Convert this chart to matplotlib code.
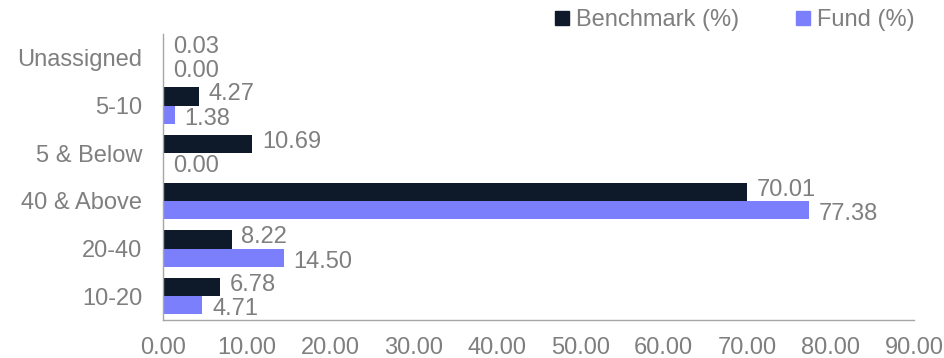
import matplotlib
matplotlib.use("Agg")
import matplotlib.pyplot as plt
import numpy as np

categories = ["Unassigned", "5-10", "5 & Below", "40 & Above", "20-40", "10-20"]
benchmark = [0.03, 4.27, 10.69, 70.01, 8.22, 6.78]
fund = [0.00, 1.38, 0.00, 77.38, 14.50, 4.71]
xticks = [0, 10, 20, 30, 40, 50, 60, 70, 80, 90]

plt.rcParams['font.family'] = ['Liberation Sans', 'DejaVu Sans']
gray = '#7f7f7f'
c_bench = '#0e1a2a'
c_fund = '#7b7ffc'
fs = 17

fig = plt.figure(figsize=(9.44, 3.58), dpi=100)
ax = fig.add_axes([0.1727, 0.106, 0.7955, 0.799])

n = len(categories)
y = np.arange(n)[::-1].astype(float)
h = 0.38
ax.barh(y + h/2, benchmark, height=h, color=c_bench, label='Benchmark (%)')
ax.barh(y - h/2, fund, height=h, color=c_fund, label='Fund (%)')

for yi, b, f in zip(y, benchmark, fund):
    ax.annotate(f"{b:.2f}", (b, yi + h/2), xytext=(7, 1.5), textcoords='offset points',
                ha='left', va='center', color=gray, fontsize=fs)
    ax.annotate(f"{f:.2f}", (f, yi - h/2), xytext=(7, -3), textcoords='offset points',
                ha='left', va='center', color=gray, fontsize=fs)

ax.set_xlim(0, 90)
ax.set_ylim(-0.5, n - 0.5)
ax.set_xticks(xticks)
ax.set_xticklabels([f"{v:.2f}" for v in xticks])
ax.set_yticks(y)
ax.set_yticklabels(categories)
ax.tick_params(axis='both', length=0, labelsize=fs, labelcolor=gray)
ax.tick_params(axis='x', pad=12)
ax.tick_params(axis='y', pad=15)
for s in ['top', 'right']:
    ax.spines[s].set_visible(False)
for s in ['left', 'bottom']:
    ax.spines[s].set_color('#a6a6a6')
    ax.spines[s].set_linewidth(1)

handles = [plt.Line2D([], [], marker='s', linestyle='none', markersize=10, color=c_bench),
           plt.Line2D([], [], marker='s', linestyle='none', markersize=10, color=c_fund)]
leg = fig.legend(handles, ['Benchmark (%)', 'Fund (%)'], loc='center left',
                 bbox_to_anchor=(0.588, 0.943), ncol=2, frameon=False, fontsize=fs,
                 handlelength=0.6, handletextpad=0.3, columnspacing=2.4,
                 borderpad=0, borderaxespad=0)
for t in leg.get_texts():
    t.set_color(gray)

fig.savefig("out.png", dpi=100)
